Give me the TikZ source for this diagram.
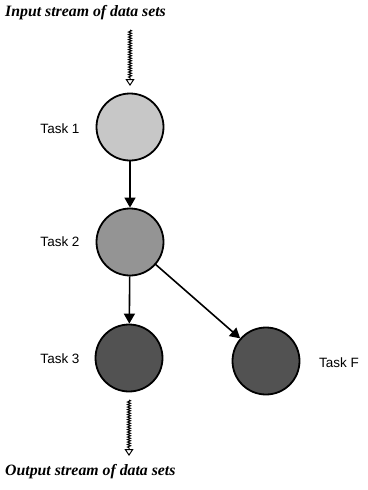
\documentclass[tikz,border=0pt]{standalone}
\usepackage{fontspec}
\setmainfont{Liberation Serif}
\newfontfamily\labelfont{Liberation Sans}
\usetikzlibrary{arrows.meta,decorations.pathmorphing}
\begin{document}
\begin{tikzpicture}[x=1pt,y=-1pt,
  task/.style={circle,draw=black,line width=1.8pt,minimum size=67pt,inner sep=0pt},
  tasklabel/.style={font=\labelfont\fontsize{13.5}{15}\selectfont,inner sep=0pt},
  streamlabel/.style={font=\bfseries\itshape\fontsize{15.8}{18}\selectfont,inner sep=0pt},
  flow/.style={line width=1.6pt,-{Triangle[length=10pt,width=11pt]}},
  stream/.style={line width=1pt,decorate,decoration={snake,amplitude=1.5pt,segment length=2.5pt,post length=7pt},
    -{Triangle[open,length=7pt,width=9pt,line width=1pt]}}]
\useasboundingbox (0,0) rectangle (367,490);
\node[task,fill=black!22] (t1) at (130,127) {};
\node[task,fill=black!42] (t2) at (130,242) {};
\node[task,fill=black!68] (t3) at (129,358) {};
\node[task,fill=black!68] (tf) at (266,361) {};
\node[tasklabel] (l1) at (60,129) {Task 1};
\node[tasklabel] (l2) at (60,242) {Task 2};
\node[tasklabel] (l3) at (60,359) {Task 3};
\node[tasklabel] (lf) at (339,363) {Task F};
\node[streamlabel,anchor=west] (in) at (5,13) {Input stream of data sets};
\node[streamlabel,anchor=west] (out) at (5,472) {Output stream of data sets};
\coordinate (ins) at (130,30);
\coordinate (ine) at (130,86);
\coordinate (outb) at (129,400);
\coordinate (outs) at (129,456);
\draw[stream] (ins) -- (ine);
\draw[stream] (outb) -- (outs);
\draw[flow] (t1) -- (t2);
\draw[flow] (t2) -- (t3);
\draw[flow] (t2) -- (tf);
\end{tikzpicture}
\end{document}
